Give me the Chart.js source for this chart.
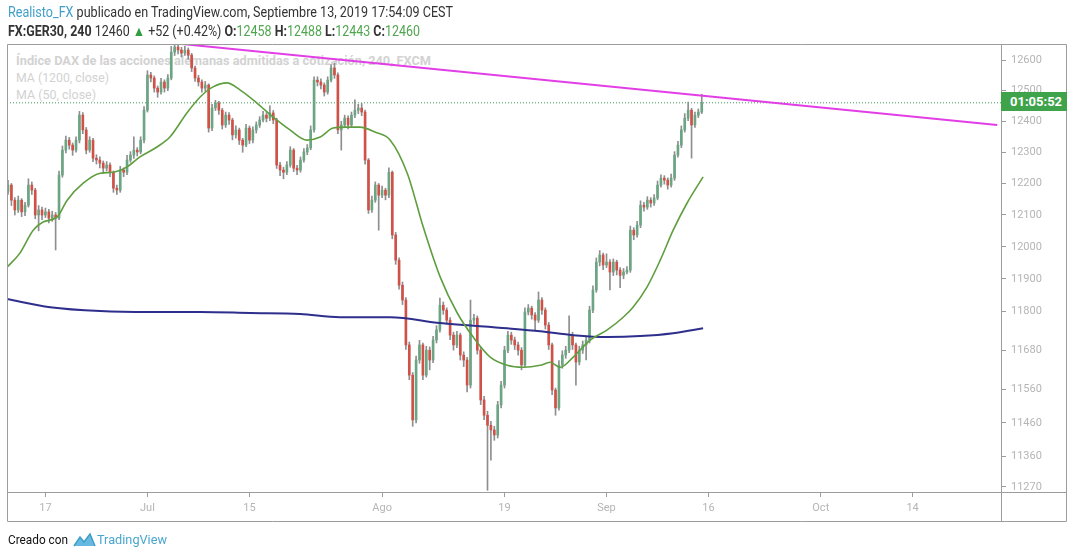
<!DOCTYPE html>
<html>
<head>
<meta charset="utf-8">
<script src="https://cdn.jsdelivr.net/npm/chart.js@4.4.1/dist/chart.umd.min.js"></script>
<style>
  html, body { margin: 0; padding: 0; background: #fff; }
  #wrap { position: relative; width: 1072px; height: 558px; overflow: hidden; font-family: Roboto, "Open Sans", sans-serif; }
  #wrap canvas { position: absolute; left: 0; top: 0; z-index: 1; }
  .t { position: absolute; white-space: nowrap; transform-origin: 0 50%; line-height: 1; }
  .wm { color: #d2d2d2; font-size: 13px; z-index: 0; }
  .hd { color: #333; font-size: 14px; z-index: 2; }
  .g { color: #4fa64f; }
  .b { font-weight: bold; }
  #price { position: absolute; left: 1001px; top: 92px; width: 66px; height: 19px; background: #3ea34a; z-index: 2;
           color: #fff; font: bold 13px Roboto, sans-serif; line-height: 19px; padding-left: 9px; box-sizing: border-box; }
</style>
</head>
<body>
<div id="wrap">
  <div class="t wm b" style="left:16px;top:54px" data-w="415">Índice DAX de las acciones alemanas admitidas a cotización, 240, FXCM</div>
  <div class="t wm" style="left:16px;top:71px" data-w="93">MA (1200, close)</div>
  <div class="t wm" style="left:16px;top:88px" data-w="80">MA (50, close)</div>

  <div class="t hd" style="left:8px;top:5px" data-w="445"><span style="color:#3f9fc9">Realisto_FX</span> publicado en TradingView.com, Septiembre 13, 2019 17:54:09 CEST</div>
  <div class="t hd" style="left:8px;top:24px" data-w="412"><span class="b">FX:GER30, 240</span> 12460 <span style="color:#2f9e3f">▲</span> +52 (+0.42%) <span class="b">O:</span><span class="g">12458</span> <span class="b">H:</span><span class="g">12488</span> <span class="b">L:</span><span class="g">12443</span> <span class="b">C:</span><span class="g">12460</span></div>

  <div id="price">01:05:52</div>

  <div class="t hd" style="left:8px;top:533px;color:#111;font-size:13px" data-w="60">Creado con</div>
  <svg style="position:absolute;left:73px;top:531px;z-index:2" width="23" height="16" viewBox="0 0 23 16">
    <path d="M1 15 L7 6 L11 11 L17 3 L22 15 Z" fill="#66b9e0"/>
    <path d="M1 15 L7 6 L11 11 L17 3 L22 15" fill="none" stroke="#3f9fc9" stroke-width="1.5"/>
  </svg>
  <div class="t hd" style="left:97px;top:533px;color:#4aa6cf;font-size:13px" data-w="70">TradingView</div>

  <canvas id="chart"></canvas>
</div>
<script>
// price data, one candle every third of a trading day
const opens = [
  12175,12195,12147,12116,12147,12110,12131,12195,12179,12100,
  12116,12100,12110,12090,12100,12090,12227,12307,12339,12323,
  12307,12339,12420,12372,12307,12339,12281,12275,12265,12249,
  12259,12236,12185,12179,12243,12236,12275,12291,12307,12301,
  12339,12436,12551,12541,12508,12495,12528,12508,12541,12626,
  12643,12633,12623,12633,12616,12574,12541,12528,12508,12518,
  12378,12443,12459,12436,12388,12420,12404,12356,12372,12339,
  12323,12378,12339,12372,12388,12404,12420,12410,12427,12404,
  12259,12243,12236,12259,12307,12249,12243,12275,12301,12314,
  12372,12534,12528,12518,12495,12534,12574,12551,12372,12388,
  12410,12388,12420,12436,12443,12430,12275,12116,12147,12195,
  12163,12179,12163,12236,12037,11958,11880,11834,11696,11604,
  11469,11650,11696,11604,11680,11650,11711,11742,11818,11803,
  11772,11726,11696,11726,11665,11650,11574,11772,11778,11680,
  11529,11483,11453,11439,11424,11514,11574,11680,11726,11711,
  11696,11680,11635,11797,11809,11788,11772,11834,11803,11757,
  11696,11559,11505,11635,11665,11680,11726,11696,11644,11680,
  11696,11711,11803,11865,11952,11974,11943,11952,11921,11952,
  11927,11911,11921,11927,12052,12037,12068,12131,12125,12147,
  12138,12154,12195,12217,12211,12195,12217,12291,12323,12372,
  12410,12436,12388,12420,12430
];
const highs = [
  12210,12200,12155,12160,12152,12140,12215,12205,12185,12130,
  12125,12122,12118,12112,12108,12240,12320,12352,12348,12330,
  12350,12432,12428,12380,12350,12345,12292,12285,12272,12270,
  12266,12240,12195,12255,12250,12290,12302,12350,12315,12350,
  12448,12565,12560,12548,12515,12540,12535,12552,12645,12653,
  12650,12642,12645,12640,12622,12580,12550,12535,12530,12522,
  12455,12468,12465,12442,12430,12428,12410,12385,12378,12345,
  12390,12385,12382,12398,12415,12432,12428,12450,12435,12410,
  12268,12252,12270,12318,12312,12258,12285,12312,12325,12385,
  12545,12545,12538,12525,12545,12585,12590,12558,12400,12420,
  12418,12430,12470,12455,12458,12436,12280,12160,12205,12200,
  12192,12185,12250,12240,12045,11965,11890,11842,11705,11612,
  11662,11710,11702,11692,11690,11722,11755,11840,11828,11810,
  11780,11735,11738,11732,11675,11658,11834,11790,11785,11688,
  11540,11495,11465,11450,11525,11585,11692,11738,11735,11720,
  11705,11688,11810,11820,11815,11795,11859,11842,11810,11765,
  11702,11565,11648,11678,11692,11785,11735,11702,11692,11708,
  11722,11815,11878,11965,11988,11980,11978,11960,11962,11958,
  11935,11932,11938,12065,12060,12080,12145,12140,12158,12155,
  12165,12208,12228,12225,12218,12230,12302,12335,12385,12425,
  12462,12442,12430,12440,12488
];
const lows = [
  12165,12130,12100,12108,12095,12098,12125,12165,12088,12050,
  12085,12092,12075,12080,11990,12085,12220,12298,12310,12290,
  12300,12330,12360,12295,12300,12270,12262,12250,12232,12240,
  12222,12172,12165,12172,12222,12228,12268,12280,12288,12295,
  12330,12430,12528,12495,12478,12488,12495,12500,12535,12615,
  12620,12610,12615,12602,12562,12530,12515,12495,12498,12365,
  12370,12435,12422,12375,12380,12390,12340,12345,12325,12300,
  12318,12328,12330,12362,12380,12398,12398,12402,12392,12248,
  12225,12215,12228,12252,12238,12228,12236,12268,12292,12308,
  12365,12515,12505,12482,12488,12528,12540,12360,12307,12380,
  12375,12380,12412,12425,12418,12262,12105,12108,12140,12052,
  12155,12148,12155,12025,11945,11868,11820,11682,11590,11450,
  11460,11640,11590,11598,11620,11642,11702,11735,11790,11760,
  11712,11680,11688,11650,11630,11553,11565,11760,11668,11515,
  11470,11260,11349,11408,11415,11505,11565,11672,11698,11682,
  11665,11620,11628,11788,11775,11740,11765,11790,11745,11682,
  11545,11483,11498,11625,11655,11672,11682,11574,11635,11670,
  11650,11702,11795,11858,11940,11928,11935,11865,11910,11912,
  11872,11900,11915,11920,12022,12030,12060,12112,12118,12125,
  12130,12148,12188,12198,12182,12188,12210,12284,12315,12365,
  12402,12281,12380,12412,12425
];
const closes = [
  12195,12147,12116,12147,12110,12131,12195,12179,12100,12116,
  12100,12110,12090,12100,12090,12227,12307,12339,12323,12307,
  12339,12420,12372,12307,12339,12281,12275,12265,12249,12259,
  12236,12185,12179,12243,12236,12275,12291,12307,12301,12339,
  12436,12551,12541,12508,12495,12528,12508,12541,12626,12643,
  12633,12623,12633,12616,12574,12541,12528,12508,12518,12378,
  12443,12459,12436,12388,12420,12404,12356,12372,12339,12323,
  12378,12339,12372,12388,12404,12420,12410,12427,12404,12259,
  12243,12236,12259,12307,12249,12243,12275,12301,12314,12372,
  12534,12528,12518,12495,12534,12574,12551,12372,12388,12410,
  12388,12420,12436,12443,12430,12275,12116,12147,12195,12163,
  12179,12163,12236,12037,11958,11880,11834,11696,11604,11469,
  11650,11696,11604,11680,11650,11711,11742,11818,11803,11772,
  11726,11696,11726,11665,11650,11574,11772,11778,11680,11529,
  11483,11453,11439,11424,11514,11574,11680,11726,11711,11696,
  11680,11635,11797,11809,11788,11772,11834,11803,11757,11696,
  11559,11505,11635,11665,11680,11726,11696,11644,11680,11696,
  11711,11803,11865,11952,11974,11943,11952,11921,11952,11927,
  11911,11921,11927,12052,12037,12068,12131,12125,12147,12138,
  12154,12195,12217,12211,12195,12217,12291,12323,12372,12410,
  12436,12388,12420,12430,12460
];

// moving averages, read at a few positions (x in candle units)
const ma50X = [-0.3,3.5,7.4,10.3,14.4,17.4,22.1,27.1,30.9,35,38.8,43.8,47.6,52.6,56.5,60.3,64.4,68.2,73.2,77.9,82.9,87.9,91.8,95.6,99.7,103.5,107.9,112.4,117.4,122.1,127.1,132.1,136.8,141.8,146.8,151.5,156.5,159.4,162.4,166.2,171.2,176.2,180.9,183.8,187.9,191.8,195.6,199.7,204.4];
const ma50Y = [11936,11980,12052,12078,12093,12147,12201,12233,12236,12253,12285,12317,12349,12427,12479,12512,12525,12502,12459,12414,12372,12339,12349,12378,12381,12381,12365,12339,12233,12062,11905,11794,11720,11659,11634,11628,11634,11643,11628,11659,11711,11742,11781,11812,11874,11958,12052,12138,12221];
const ma1200X = [-0.3,12.4,27.1,41.8,56.5,71.2,85.9,97.6,112.4,127.1,146.8,156.5,166.2,176.2,185.9,195.6,204.4];
const ma1200Y = [11837,11812,11800,11797,11797,11794,11791,11781,11781,11763,11747,11738,11726,11720,11723,11732,11747];

// resistance line drawn on the chart
const trendX = [51.2, 290.9];
const trendY = [12653, 12388];
const lastClose = 12460;

// axes
const xMin = -0.3, xMax = 292;
const yMin = 11255, yMax = 12653;
const tickIdx = [11, 41, 71, 110, 146, 176, 206, 239, 266];
const tickLabels = ['17', 'Jul', '15', 'Ago', '19', 'Sep', '16', 'Oct', '14'];
const yTicks = [12600, 12500, 12400, 12300, 12200, 12100, 12000, 11900, 11800, 11680, 11560, 11460, 11360, 11270];

const UP = '#6ba583', DOWN = '#cf5147', WICK = '#8e8e8e', FRAME = '#9c9c9c';

// squeeze the html texts to the reference widths
document.querySelectorAll('[data-w]').forEach(el => {
  const w = el.getBoundingClientRect().width;
  el.style.transform = 'scaleX(' + (el.dataset.w / w) + ')';
});

const frame = {
  id: 'frame',
  afterDraw(chart) {
    const { ctx, chartArea: a, scales } = chart;
    const r = scales.y.right, b = scales.x.bottom;
    ctx.save();
    ctx.strokeStyle = FRAME;
    ctx.lineWidth = 1;
    ctx.beginPath();
    ctx.moveTo(a.left + 0.5, a.top + 0.5); ctx.lineTo(r - 0.5, a.top + 0.5);
    ctx.lineTo(r - 0.5, b - 0.5); ctx.lineTo(a.left + 0.5, b - 0.5); ctx.closePath();
    ctx.moveTo(a.left, a.bottom + 0.5); ctx.lineTo(r, a.bottom + 0.5);
    ctx.moveTo(a.right + 0.5, a.top); ctx.lineTo(a.right + 0.5, b);
    ctx.stroke();
    ctx.restore();
  }
};

const idx = closes.map((c, i) => i);
const pts = (xs, ys) => xs.map((x, i) => ({ x, y: ys[i] }));

new Chart(document.getElementById('chart'), {
  type: 'bar',
  data: {
    datasets: [
      {
        type: 'line', order: 12,
        data: [{ x: xMin, y: lastClose }, { x: xMax, y: lastClose }],
        borderColor: '#3f9a5c', borderWidth: 1, borderDash: [1, 2], pointRadius: 0
      },
      {
        order: 11, grouped: false, barThickness: 1,
        data: idx.map(i => ({ x: i, y: [lows[i], highs[i]] })),
        backgroundColor: WICK
      },
      {
        order: 10, grouped: false, barThickness: 2, minBarLength: 1,
        data: idx.map(i => ({ x: i, y: [opens[i], closes[i]] })),
        backgroundColor: idx.map(i => closes[i] >= opens[i] ? UP : DOWN)
      },
      {
        type: 'line', order: 3, data: pts(ma1200X, ma1200Y),
        borderColor: '#2e2e8c', borderWidth: 2, pointRadius: 0, cubicInterpolationMode: 'monotone'
      },
      {
        type: 'line', order: 2, data: pts(ma50X, ma50Y),
        borderColor: '#5f9e3f', borderWidth: 1.6, pointRadius: 0, cubicInterpolationMode: 'monotone'
      },
      {
        type: 'line', order: 1, data: pts(trendX, trendY),
        borderColor: '#e23ee6', borderWidth: 2, pointRadius: 0
      }
    ]
  },
  options: {
    responsive: true,
    maintainAspectRatio: false,
    animation: false,
    layout: { padding: { left: 7, top: 44, right: 5, bottom: 36 } },
    plugins: { legend: { display: false }, tooltip: { enabled: false } },
    scales: {
      x: {
        type: 'linear', min: xMin, max: xMax, offset: false,
        afterFit: s => { s.height = 30; },
        afterBuildTicks: s => { s.ticks = tickIdx.map(v => ({ value: v })); },
        grid: { drawOnChartArea: false, drawTicks: true, tickLength: 5, color: FRAME, offset: false },
        border: { display: false },
        ticks: {
          autoSkip: false, maxRotation: 0, padding: 5, color: '#b5b5b5',
          font: { family: 'Roboto', size: 11 },
          callback: v => tickLabels[tickIdx.indexOf(v)]
        }
      },
      y: {
        type: 'logarithmic', position: 'right', min: yMin, max: yMax,
        afterFit: s => { s.width = 66; },
        afterBuildTicks: s => { s.ticks = yTicks.map(v => ({ value: v })); },
        grid: { drawOnChartArea: false, drawTicks: true, tickLength: 5, color: FRAME },
        border: { display: false },
        ticks: {
          autoSkip: false, padding: 5, color: '#b5b5b5',
          font: { family: 'Roboto', size: 11 },
          callback: v => String(v)
        }
      }
    }
  },
  plugins: [frame]
});
</script>
</body>
</html>
